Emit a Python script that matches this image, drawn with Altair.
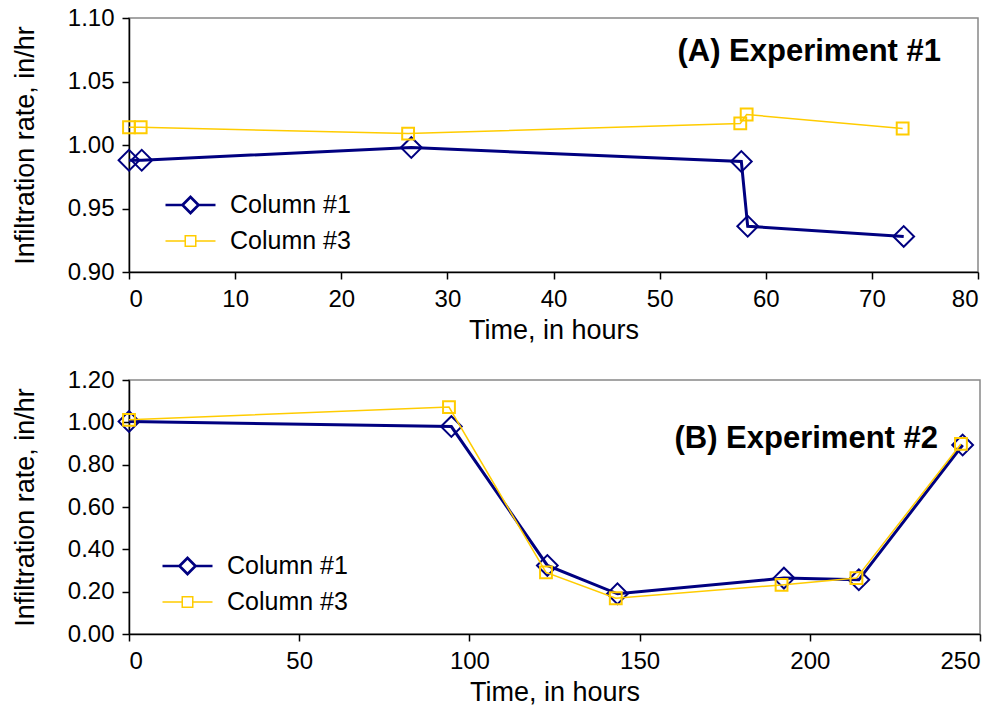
import altair as alt
import pandas as pd

series_names = ["Column #1", "Column #3"]

# Panel A (Experiment #1)
a_time_c1 = [0.0, 1.2, 26.6, 57.7, 58.3, 73.0]
a_rate_c1 = [0.988, 0.988, 0.998, 0.987, 0.936, 0.928]
a_time_c3 = [0.0, 1.1, 26.3, 57.6, 58.2, 72.9]
a_rate_c3 = [1.014, 1.014, 1.009, 1.017, 1.024, 1.013]

# Panel B (Experiment #2)
b_time_c1 = [0.0, 94.7, 122.9, 143.5, 192.4, 214.4, 244.9]
b_rate_c1 = [1.004, 0.980, 0.324, 0.190, 0.264, 0.256, 0.893]
b_time_c3 = [0.0, 94.0, 122.5, 143.0, 191.7, 213.7, 244.4]
b_rate_c3 = [1.012, 1.072, 0.291, 0.169, 0.232, 0.264, 0.898]

a_xticks = [0, 10, 20, 30, 40, 50, 60, 70, 80]
a_yticks = [0.90, 0.95, 1.00, 1.05, 1.10]
b_xticks = [0, 50, 100, 150, 200, 250]
b_yticks = [0.0, 0.2, 0.4, 0.6, 0.8, 1.0, 1.2]

NAVY = "#000080"
GOLD = "#FFCC00"
FONT = "Liberation Sans"

DIAMOND_LEG = "M-1,0H-0.32M0.32,0H1M-0.32,0L0,-0.32L0.32,0L0,0.32Z"
SQUARE_LEG = "M-1,0H-0.21M0.21,0H1M-0.21,-0.21H0.21V0.21H-0.21Z"


def make_df(t1, r1, t3, r3):
    return pd.DataFrame({
        "time": t1 + t3,
        "rate": r1 + r3,
        "series": [series_names[0]] * len(t1) + [series_names[1]] * len(t3),
    })


def panel(df, xdom, xticks, ydom, yticks, label, w, h, lx, ly, tx, ty):
    x = alt.X("time:Q", scale=alt.Scale(domain=xdom, nice=False, zero=False),
              axis=alt.Axis(values=xticks, title="Time, in hours", format="d"))
    y = alt.Y("rate:Q", scale=alt.Scale(domain=ydom, nice=False, zero=False),
              axis=alt.Axis(values=yticks, title="Infiltration rate, in/hr", format=".2f"))
    base = alt.Chart(df)
    c1 = base.transform_filter(alt.datum.series == series_names[0])
    c3 = base.transform_filter(alt.datum.series == series_names[1])
    line1 = c1.mark_line(color=NAVY, strokeWidth=3).encode(x=x, y=y)
    pts1 = c1.mark_point(shape="diamond", color=NAVY, size=430, strokeWidth=2,
                         filled=False, opacity=1).encode(x=x, y=y)
    line3 = c3.mark_line(color=GOLD, strokeWidth=1.5).encode(x=x, y=y)
    pts3 = c3.mark_point(shape="square", color=GOLD, size=140, strokeWidth=2,
                         filled=False, opacity=1).encode(x=x, y=y)
    leg_common = dict(orient="none", legendX=lx, legendY=ly, title=None,
                      labelFont=FONT, labelFontSize=25, labelColor="black",
                      symbolSize=2500, labelOffset=13, clipHeight=36,
                      rowPadding=0, padding=0, symbolFillColor="transparent")
    leg = base.transform_filter("false").mark_point(filled=False, opacity=1).encode(
        color=alt.Color("series:N", scale=alt.Scale(domain=series_names, range=[NAVY, GOLD]),
                        legend=alt.Legend(**leg_common)),
        shape=alt.Shape("series:N", scale=alt.Scale(domain=series_names,
                                                     range=[DIAMOND_LEG, SQUARE_LEG]),
                        legend=alt.Legend(**leg_common)),
        strokeWidth=alt.StrokeWidth("series:N",
                                    scale=alt.Scale(type="point", domain=series_names,
                                                    range=[2.7, 1.5], padding=0),
                                    legend=alt.Legend(**leg_common)),
    )
    txt = alt.Chart(pd.DataFrame({"t": [label]})).mark_text(
        font=FONT, fontSize=31, fontWeight="bold", align="right", baseline="middle",
        color="black"
    ).encode(x=alt.value(tx), y=alt.value(ty), text="t:N")
    return alt.layer(line1, pts1, line3, pts3, leg, txt).properties(width=w, height=h)


top = panel(make_df(a_time_c1, a_rate_c1, a_time_c3, a_rate_c3), [0, 80], a_xticks,
            [0.9, 1.1], a_yticks, "(A) Experiment #1", 849, 254, 35, 169, 812, 34)
bottom = panel(make_df(b_time_c1, b_rate_c1, b_time_c3, b_rate_c3), [0, 250], b_xticks,
               [0.0, 1.2], b_yticks, "(B) Experiment #2", 851, 254, 32, 168, 809, 59)

chart = alt.vconcat(top, bottom, spacing=23).resolve_scale(
    color="independent", shape="independent", strokeWidth="independent"
).properties(
    padding={"left": 10, "top": 5, "right": 5, "bottom": 5}
).configure_view(
    stroke="#888888", strokeWidth=1.5
).configure_axis(
    labelFont=FONT, labelFontSize=24, labelColor="black",
    titleFont=FONT, titleFontSize=27, titleFontWeight="normal", titleColor="black",
    domainColor="black", domainWidth=1.5, tickColor="black", tickWidth=1.5,
    tickSize=7, grid=False, labelPadding=8,
).configure_axisX(
    titlePadding=6
).configure_axisY(
    titlePadding=28
)

chart.save("out.html", embed_options={"renderer": "svg", "actions": False})
